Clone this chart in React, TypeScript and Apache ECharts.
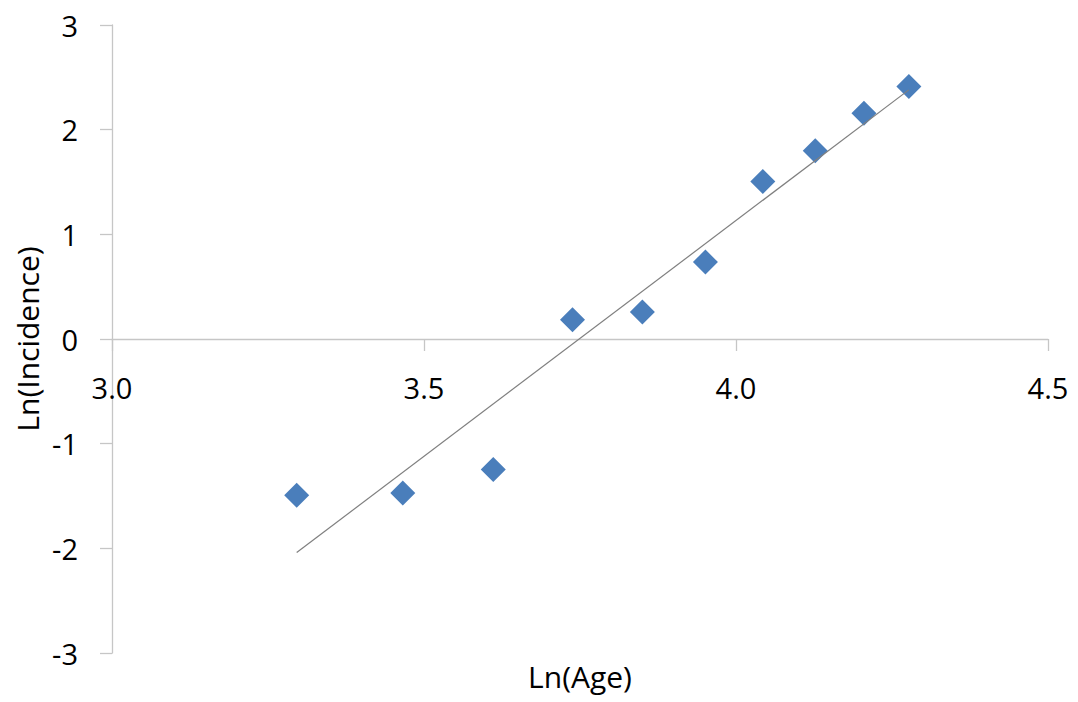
import React, { useEffect, useRef } from "react";
import * as echarts from "echarts";

const lnAge = [3.296, 3.466, 3.611, 3.738, 3.85, 3.951, 4.043, 4.127, 4.205, 4.277];
const lnIncidence = [-1.494, -1.471, -1.248, 0.184, 0.258, 0.735, 1.505, 1.798, 2.158, 2.413];
const trendX = [3.296, 4.277];
const trendY = [-2.04, 2.38];

const FONT = "'Open Sans', 'Liberation Sans', sans-serif";

export default function App() {
  const ref = useRef<HTMLDivElement>(null);
  useEffect(() => {
    if (!ref.current) return;
    const chart = echarts.init(ref.current, undefined, { renderer: "svg" });
    const gridTop = 25;
    const gridBottom = 49;
    const plotH = 702 - gridTop - gridBottom;
    chart.setOption({
      animation: false,
      backgroundColor: "#ffffff",
      grid: { left: 112, right: 30, top: gridTop, bottom: gridBottom, containLabel: false, outerBoundsMode: "none" },
      xAxis: {
        type: "value",
        position: "bottom",
        offset: -plotH / 2,
        min: 3,
        max: 4.5,
        interval: 0.5,
        name: "Ln(Age)",
        nameLocation: "middle",
        nameGap: 322,
        nameMoveOverlap: false,
        nameTextStyle: { fontFamily: FONT, fontSize: 30, color: "#000" },
        axisLine: { onZero: false, lineStyle: { color: "#c6c6c6", width: 1.3 } },
        axisTick: { show: true, length: 12, inside: false, lineStyle: { color: "#c6c6c6", width: 1.3 } },
        axisLabel: {
          margin: 34,
          fontFamily: FONT,
          fontSize: 29,
          color: "#000",
          formatter: (v: number) => v.toFixed(1),
        },
        splitLine: { show: false },
      },
      yAxis: {
        type: "value",
        min: -3,
        max: 3,
        interval: 1,
        name: "Ln(Incidence)",
        nameLocation: "middle",
        nameGap: 70,
        nameMoveOverlap: false,
        nameTextStyle: { fontFamily: FONT, fontSize: 30, color: "#000" },
        axisLine: { show: true, onZero: false, lineStyle: { color: "#c6c6c6", width: 1.3 } },
        axisTick: { show: true, length: 12, lineStyle: { color: "#c6c6c6", width: 1.3 } },
        axisLabel: { margin: 34, fontFamily: FONT, fontSize: 29, color: "#000" },
        splitLine: { show: false },
      },
      series: [
        {
          type: "line",
          data: trendX.map((x, i) => [x, trendY[i]]),
          symbol: "none",
          lineStyle: { color: "#7f7f7f", width: 1.2 },
          silent: true,
          z: 3,
        },
        {
          type: "scatter",
          data: lnAge.map((x, i) => [x, lnIncidence[i]]),
          symbol: "diamond",
          symbolSize: 25,
          itemStyle: { color: "#4a7ebb", opacity: 1 },
          z: 2,
        },
      ],
    });
    return () => chart.dispose();
  }, []);
  return (
    <div
      ref={ref}
      style={{ position: "fixed", left: 0, top: 0, width: 1078, height: 702 }}
    />
  );
}
